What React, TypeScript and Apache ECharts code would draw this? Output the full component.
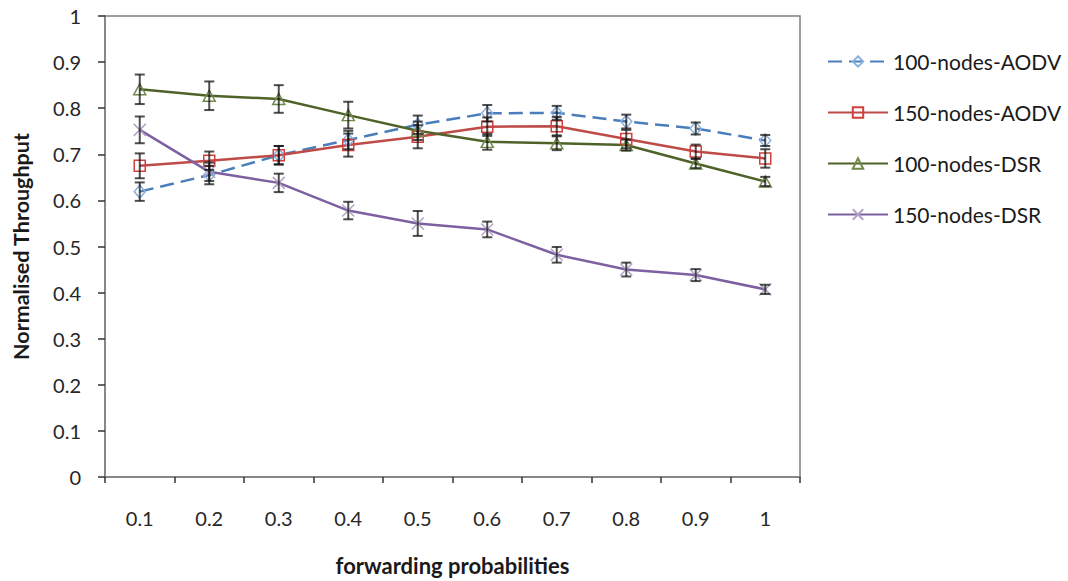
import React, { useEffect, useRef } from "react";
import * as echarts from "echarts";

const categories = ["0.1", "0.2", "0.3", "0.4", "0.5", "0.6", "0.7", "0.8", "0.9", "1"];
const yTicks = [0, 0.1, 0.2, 0.3, 0.4, 0.5, 0.6, 0.7, 0.8, 0.9, 1];

const aodv100 = [0.619, 0.655, 0.698, 0.731, 0.764, 0.789, 0.79, 0.771, 0.756, 0.73];
const aodv150 = [0.675, 0.686, 0.698, 0.72, 0.738, 0.76, 0.761, 0.733, 0.706, 0.691];
const dsr100 = [0.841, 0.827, 0.82, 0.785, 0.751, 0.727, 0.724, 0.72, 0.68, 0.641];
const dsr150 = [0.753, 0.662, 0.638, 0.578, 0.55, 0.537, 0.482, 0.45, 0.438, 0.407];

const aodv100Err = [0.02, 0.02, 0.02, 0.02, 0.02, 0.018, 0.015, 0.015, 0.013, 0.012];
const aodv150Err = [0.027, 0.02, 0.02, 0.025, 0.025, 0.02, 0.02, 0.02, 0.015, 0.02];
const dsr100Err = [0.032, 0.031, 0.03, 0.029, 0.02, 0.017, 0.015, 0.012, 0.01, 0.01];
const dsr150Err = [0.029, 0.02, 0.02, 0.019, 0.027, 0.017, 0.017, 0.015, 0.013, 0.01];

const seriesNames = ["100-nodes-AODV", "150-nodes-AODV", "100-nodes-DSR", "150-nodes-DSR"];

const FONT = "Lato";

function errData(vals: number[], errs: number[]) {
  return vals.map((v, i) => [i, v - errs[i], v + errs[i]]);
}

function errSeries(name: string, vals: number[], errs: number[]) {
  return {
    type: "custom",
    name: name + "-err",
    data: errData(vals, errs),
    encode: { x: 0, y: [1, 2] },
    z: 5,
    silent: true,
    renderItem: (params: any, api: any) => {
      const x = api.value(0);
      const lo = api.coord([x, api.value(1)]);
      const hi = api.coord([x, api.value(2)]);
      const hw = 5;
      const style = { stroke: "rgba(20,20,20,0.75)", lineWidth: 2 };
      return {
        type: "group",
        children: [
          { type: "line", shape: { x1: lo[0], y1: lo[1], x2: hi[0], y2: hi[1] }, style },
          { type: "line", shape: { x1: lo[0] - hw, y1: lo[1], x2: lo[0] + hw, y2: lo[1] }, style },
          { type: "line", shape: { x1: hi[0] - hw, y1: hi[1], x2: hi[0] + hw, y2: hi[1] }, style },
        ],
      };
    },
  };
}

export default function App() {
  const ref = useRef<HTMLDivElement>(null);
  useEffect(() => {
    document.body.style.margin = "0";
    if (!ref.current) return;
    const chart = echarts.init(ref.current, undefined, { renderer: "svg" });
    const option: any = {
      animation: false,
      backgroundColor: "#ffffff",
      textStyle: { fontFamily: FONT },
      grid: {
        left: 105,
        top: 16,
        right: 268,
        bottom: 104,
        show: true,
        borderColor: "#7f7f7f",
        borderWidth: 1.5,
        containLabel: false,
      },
      legend: {
        orient: "vertical",
        left: 822,
        top: 46,
        itemWidth: 60,
        itemHeight: 13,
        itemGap: 30,
        data: seriesNames,
        textStyle: { fontFamily: FONT, fontSize: 21, color: "#1a1a1a", lineHeight: 21 },
      },
      xAxis: {
        type: "category",
        data: categories,
        boundaryGap: true,
        name: "forwarding probabilities",
        nameLocation: "middle",
        nameGap: 77,
        nameTextStyle: { fontFamily: FONT, fontSize: 22, fontWeight: "bold", color: "#1a1a1a" },
        axisLine: { show: true, lineStyle: { color: "#7f7f7f", width: 1.5 } },
        axisTick: { show: true, length: 6, lineStyle: { color: "#333", width: 1.5 } },
        axisLabel: { margin: 31, fontFamily: FONT, fontSize: 20, color: "#262626" },
        splitLine: { show: false },
      },
      yAxis: {
        type: "value",
        min: 0,
        max: 1,
        interval: 0.1,
        name: "Normalised Throughput",
        nameLocation: "middle",
        nameGap: 73,
        nameTextStyle: { fontFamily: FONT, fontSize: 21.5, fontWeight: "bold", color: "#1a1a1a" },
        axisLine: { show: true, lineStyle: { color: "#7f7f7f", width: 1.5 } },
        axisTick: { show: true, length: 7, lineStyle: { color: "#333", width: 1.5 } },
        axisLabel: {
          margin: 24,
          fontFamily: FONT,
          fontSize: 20,
          color: "#262626",
          formatter: (v: number) => {
            const t = yTicks.find((k) => Math.abs(k - v) < 1e-6);
            return String(t !== undefined ? t : v);
          },
        },
        splitLine: { show: false },
      },
      series: [
        {
          type: "line",
          name: seriesNames[0],
          data: aodv100,
          symbol: "diamond",
          symbolSize: [11, 13],
          color: "#4A7EBB",
          lineStyle: { color: "#4A7EBB", width: 2.5, type: [14, 7] },
          itemStyle: { color: "transparent", borderColor: "#8AB0DE", borderWidth: 1.5 },
          z: 3,
        },
        {
          type: "line",
          name: seriesNames[1],
          data: aodv150,
          symbol: "rect",
          symbolSize: 11,
          color: "#BE4B48",
          lineStyle: { color: "#BE4B48", width: 2.5 },
          itemStyle: { color: "transparent", borderColor: "#D0403C", borderWidth: 1.5 },
          z: 3,
        },
        {
          type: "line",
          name: seriesNames[2],
          data: dsr100,
          symbol: "triangle",
          symbolSize: [12, 11],
          color: "#4F6228",
          lineStyle: { color: "#4F6228", width: 2.5 },
          itemStyle: { color: "transparent", borderColor: "#6F8A4A", borderWidth: 1.5 },
          z: 3,
        },
        {
          type: "line",
          name: seriesNames[3],
          data: dsr150,
          symbol: "path://M0,0L10,10M10,0L0,10",
          symbolSize: 12,
          color: "#7D60A0",
          lineStyle: { color: "#7D60A0", width: 2.5 },
          itemStyle: { color: "transparent", borderColor: "#B3A2C7", borderWidth: 1.5 },
          z: 3,
        },
        errSeries(seriesNames[0], aodv100, aodv100Err),
        errSeries(seriesNames[1], aodv150, aodv150Err),
        errSeries(seriesNames[2], dsr100, dsr100Err),
        errSeries(seriesNames[3], dsr150, dsr150Err),
      ],
    };
    chart.setOption(option);
    return () => chart.dispose();
  }, []);
  return <div ref={ref} style={{ width: 1068, height: 581 }} />;
}
